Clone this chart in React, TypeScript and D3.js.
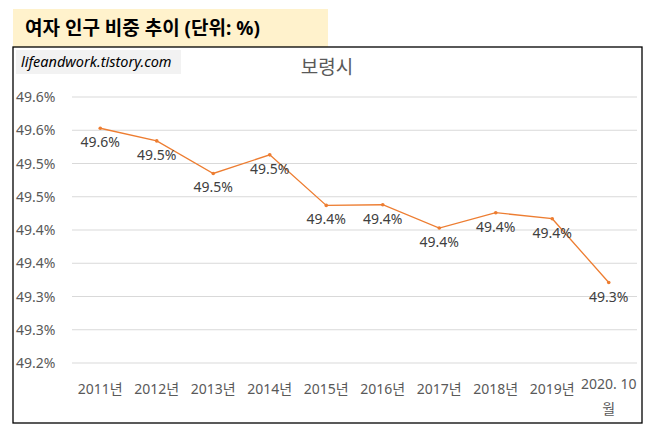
import { useRef, useEffect } from 'react';
import * as d3 from 'd3';

const categories = ['2011년', '2012년', '2013년', '2014년', '2015년', '2016년', '2017년', '2018년', '2019년', '2020. 10월'];
const values = [49.553, 49.534, 49.485, 49.513, 49.437, 49.438, 49.403, 49.426, 49.417, 49.321];
const yTicks = [49.2, 49.25, 49.3, 49.35, 49.4, 49.45, 49.5, 49.55, 49.6];

const FONT = "'Noto Sans', 'Noto Sans CJK KR', sans-serif";

export default function App() {
  const svgRef = useRef<SVGSVGElement>(null);

  useEffect(() => {
    if (!svgRef.current) return;
    const svg = d3.select(svgRef.current);
    svg.selectAll('*').remove();

    const width = 653;
    const height = 434;
    const plot = { left: 72, right: 637, top: 97, bottom: 363 };

    svg.attr('viewBox', `0 0 ${width} ${height}`);

    svg.append('rect').attr('width', width).attr('height', height).attr('fill', '#fff');

    // Title box
    svg.append('rect')
      .attr('x', 13).attr('y', 9).attr('width', 315).attr('height', 38)
      .attr('fill', '#fff2cc');
    svg.append('text')
      .attr('x', 25).attr('y', 35)
      .attr('font-family', FONT).attr('font-weight', 'bold')
      .style('font-size', '19px').attr('fill', '#000')
      .text('여자 인구 비중 추이 (단위: %)');

    // Chart frame
    svg.append('rect')
      .attr('x', 13).attr('y', 47).attr('width', 629).attr('height', 376)
      .attr('fill', '#fff').attr('stroke', '#000').attr('stroke-width', 1.3);

    // Watermark
    svg.append('rect')
      .attr('x', 16).attr('y', 50).attr('width', 165).attr('height', 24)
      .attr('fill', '#f2f2f2');
    svg.append('text')
      .attr('x', 21).attr('y', 67)
      .attr('font-family', FONT).attr('font-style', 'italic')
      .style('font-size', '14.5px').attr('fill', '#000')
      .text('lifeandwork.tistory.com');

    // Chart title
    svg.append('text')
      .attr('x', 327).attr('y', 74)
      .attr('text-anchor', 'middle')
      .attr('font-family', FONT)
      .style('font-size', '19px').attr('fill', '#595959')
      .text('보령시');

    const xScale = d3.scaleBand<string>()
      .domain(categories)
      .range([plot.left, plot.right]);

    const yScale = d3.scaleLinear()
      .domain([49.2, 49.6])
      .range([plot.bottom, plot.top]);

    // Grid
    const grid = svg.append('g');
    yTicks.forEach((t) => {
      grid.append('line')
        .attr('x1', plot.left).attr('x2', plot.right)
        .attr('y1', yScale(t)).attr('y2', yScale(t))
        .attr('stroke', '#d9d9d9').attr('stroke-width', 1);
      grid.append('text')
        .attr('x', 16).attr('y', yScale(t) + 5)
        .attr('font-family', FONT)
        .style('font-size', '14px').attr('fill', '#595959')
        .text(`${d3.format('.1f')(t + 1e-9)}%`);
    });

    // X labels
    categories.forEach((c) => {
      const cx = xScale(c)! + xScale.bandwidth() / 2;
      if (c.startsWith('2020')) {
        svg.append('text')
          .attr('x', cx).attr('y', 389)
          .attr('text-anchor', 'middle').attr('font-family', FONT)
          .style('font-size', '14px').attr('fill', '#595959')
          .text('2020. 10');
        svg.append('text')
          .attr('x', cx).attr('y', 414)
          .attr('text-anchor', 'middle').attr('font-family', FONT)
          .style('font-size', '14px').attr('fill', '#595959')
          .text('월');
      } else {
        svg.append('text')
          .attr('x', cx).attr('y', 394)
          .attr('text-anchor', 'middle').attr('font-family', FONT)
          .style('font-size', '14px').attr('fill', '#595959')
          .text(c);
      }
    });

    const data = categories.map((c, i) => ({ c, v: values[i] }));
    const line = d3.line<{ c: string; v: number }>()
      .x((d) => xScale(d.c)! + xScale.bandwidth() / 2)
      .y((d) => yScale(d.v));

    svg.append('path')
      .datum(data)
      .attr('d', line)
      .attr('fill', 'none')
      .attr('stroke', '#ed7d31')
      .attr('stroke-width', 1.3);

    svg.append('g')
      .selectAll('circle')
      .data(data)
      .join('circle')
      .attr('cx', (d) => xScale(d.c)! + xScale.bandwidth() / 2)
      .attr('cy', (d) => yScale(d.v))
      .attr('r', 1.8)
      .attr('fill', '#ed7d31');

    // Data labels
    svg.append('g')
      .selectAll('text')
      .data(data)
      .join('text')
      .attr('x', (d) => xScale(d.c)! + xScale.bandwidth() / 2)
      .attr('y', (d) => yScale(d.v) + 19)
      .attr('text-anchor', 'middle')
      .attr('font-family', FONT)
      .style('font-size', '14px').attr('fill', '#404040')
      .text((d) => `${d.v.toFixed(1)}%`);
  }, []);

  return (
    <svg
      ref={svgRef}
      width={653}
      height={434}
      style={{ position: 'absolute', left: 0, top: 0, display: 'block' }}
    />
  );
}
